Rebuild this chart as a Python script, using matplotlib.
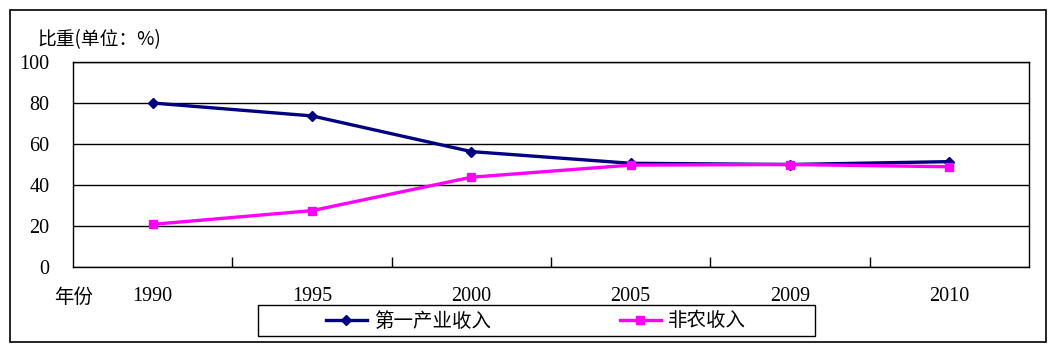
import matplotlib
matplotlib.use("Agg")
import matplotlib.pyplot as plt
from matplotlib.patches import Rectangle
from matplotlib.lines import Line2D

years = ["1990", "1995", "2000", "2005", "2009", "2010"]
primary = [80.0, 73.7, 56.3, 50.6, 50.0, 51.4]
nonfarm = [20.8, 27.5, 43.8, 49.7, 50.0, 48.9]
series_names = ["第一产业收入", "非农收入"]
y_ticks = [0, 20, 40, 60, 80, 100]
y_title = "比重(单位：%)"
x_title = "年份"

W, H = 1058, 353
fig = plt.figure(figsize=(W / 100, H / 100), dpi=100)
fam_num = ["Liberation Serif", "DejaVu Serif"]
fam_cjk = ["Noto Sans CJK SC", "DejaVu Sans"]

def fx(px):
    return px / W

def fy(py):
    return 1 - py / H

# outer border
fig.patches.append(Rectangle((fx(9.5), fy(342)), fx(1046) - fx(9.5), fy(9.5) - fy(342),
                             transform=fig.transFigure, fill=False, ec="black", lw=1.2))

left, right, top, bottom = 73, 1029, 62, 267
ax = fig.add_axes([fx(left), fy(bottom), fx(right) - fx(left), fy(top) - fy(bottom)])
x = list(range(len(years)))
ax.plot(x, primary, color="#000080", lw=2.4, marker="D", ms=5, label=series_names[0], zorder=3)
ax.plot(x, nonfarm, color="#FF00FF", lw=2.4, marker="s", ms=6, label=series_names[1], zorder=4)

ax.set_xlim(-0.5, len(years) - 0.5)
ax.set_ylim(0, 100)
ax.set_yticks(y_ticks)
ax.set_yticklabels([str(v) for v in y_ticks], family=fam_num, fontsize=14.5)
ax.tick_params(axis="y", length=0, pad=17)
for t in ax.get_yticklabels():
    t.set_horizontalalignment("right")
ax.yaxis.grid(True, color="black", lw=1)
ax.set_axisbelow(True)

ax.set_xticks([i + 0.5 for i in range(len(years) - 1)])
ax.set_xticklabels([])
ax.tick_params(axis="x", direction="in", length=7, width=1, color="black")
for i, yr in enumerate(years):
    ax.text(i, -0.145, yr, transform=ax.get_xaxis_transform(), ha="center", va="center",
            family=fam_num, fontsize=14.5)
for s in ax.spines.values():
    s.set_color("black")
    s.set_linewidth(1)

fig.text(fx(37), fy(40), y_title, family=fam_cjk, fontsize=13.5, ha="left", va="center")
fig.text(fx(54), fy(297), x_title, family=fam_cjk, fontsize=14, ha="left", va="center")

# legend box
fig.patches.append(Rectangle((fx(258), fy(336)), fx(815) - fx(258), fy(305) - fy(336),
                             transform=fig.transFigure, fill=False, ec="black", lw=1))
handles = [Line2D([], [], color="#000080", lw=2.4, marker="D", ms=5),
           Line2D([], [], color="#FF00FF", lw=2.4, marker="s", ms=6)]
leg = fig.legend(handles, series_names, loc="center", bbox_to_anchor=(fx(536), fy(321)),
                 ncol=2, frameon=False, prop={"family": fam_cjk, "size": 14},
                 columnspacing=6.6, handlelength=2.1, handletextpad=0.4)

fig.savefig("out.png", dpi=100)
